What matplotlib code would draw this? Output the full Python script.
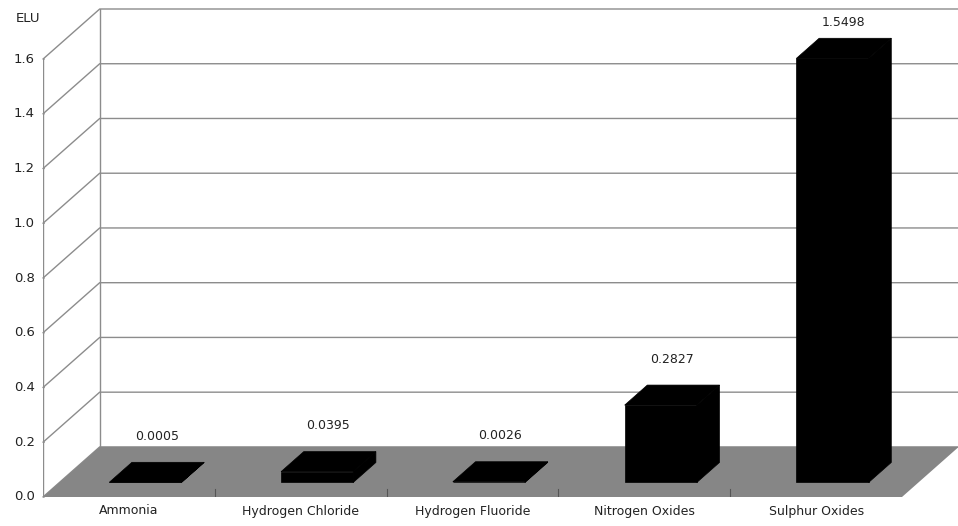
import numpy as np
import matplotlib
matplotlib.use("Agg")
from matplotlib import pyplot as plt
from matplotlib.patches import Polygon

# emissions per substance (ELU)
categories = ['Ammonia', 'Hydrogen Chloride', 'Hydrogen Fluoride',
              'Nitrogen Oxides', 'Sulphur Oxides']
values = [0.0005, 0.0395, 0.0026, 0.2827, 1.5498]
value_labels = ['0.0005', '0.0395', '0.0026', '0.2827', '1.5498']
yticks = [0.0, 0.2, 0.4, 0.6, 0.8, 1.0, 1.2, 1.4, 1.6]
ytick_labels = ['0.0', '0.2', '0.4', '0.6', '0.8', '1.0', '1.2', '1.4', '1.6']
unit = 'ELU'

# oblique projection of the depth axis
DX = 0.33     # depth shift in category units
DY = 0.183    # depth shift in value units
YMAX = 1.6
bar_w = 0.42
z0, z1 = 0.29, 0.69

grid_col = '#8c8c8c'
floor_col = '#868686'
text_col = '#222222'
fs = 9


def proj(x, y, z):
    return (x + z * DX, y + z * DY)


n = len(categories)
fig = plt.figure(figsize=(9.58, 5.26), dpi=100)
ax = fig.add_axes([43 / 958, 29 / 526, 171.8 * (n + DX) / 958, 488 / 526])
ax.set_xlim(0, n + DX)
ax.set_ylim(0, YMAX + DY)
ax.axis('off')

# wall grid: diagonal on the side, horizontal on the back wall
for v, lbl in zip(yticks, ytick_labels):
    pts = [proj(0, v, 0), proj(0, v, 1), proj(n, v, 1)]
    ax.plot([p[0] for p in pts], [p[1] for p in pts], color=grid_col,
            lw=1.0, zorder=1, clip_on=False, solid_capstyle='butt')
    # small tick on the value axis
    ax.annotate('', xy=(0, v), xytext=(4, 0), textcoords='offset pixels',
                arrowprops=dict(arrowstyle='-', color=grid_col, lw=1.0))
    ax.annotate(lbl, (0, v), xytext=(-8, 0),
                textcoords='offset pixels', ha='right', va='center',
                fontsize=9.5, color=text_col)

# front value axis and back wall edge
ax.plot([0, 0], [0, YMAX], color=grid_col, lw=1.0, zorder=1)
b0, b1 = proj(0, 0, 1), proj(0, YMAX, 1)
ax.plot([b0[0], b1[0]], [b0[1], b1[1]], color=grid_col, lw=1.0, zorder=1)

# floor
floor = [proj(0, 0, 0), proj(n, 0, 0), proj(n, 0, 1), proj(0, 0, 1)]
ax.add_patch(Polygon(floor, closed=True, facecolor=floor_col,
                     edgecolor='none', zorder=2, clip_on=False))

# category separators on the floor edge
for k in range(1, n):
    ax.plot([k, k], [0, 0.03], color='#555555', lw=0.8, zorder=2.5)

# bars
for i, v in enumerate(values):
    xa = i + 0.5 - bar_w / 2
    xb = i + 0.5 + bar_w / 2
    front = [proj(xa, 0, z0), proj(xb, 0, z0), proj(xb, v, z0), proj(xa, v, z0)]
    top = [proj(xa, v, z0), proj(xb, v, z0), proj(xb, v, z1), proj(xa, v, z1)]
    side = [proj(xb, 0, z0), proj(xb, 0, z1), proj(xb, v, z1), proj(xb, v, z0)]
    for face in (front, top, side):
        ax.add_patch(Polygon(face, closed=True, facecolor='black',
                             edgecolor='black', lw=0.5, zorder=3,
                             clip_on=False))
    lx = proj(i + 0.5, v, (z0 + z1) / 2)[0]
    ly = proj(i + 0.5, v, z1)[1]
    ly = min(ly + 0.095, YMAX + DY - 0.05)
    ax.text(lx, ly, value_labels[i], ha='center', va='center',
            fontsize=fs, color=text_col, zorder=4)

# category labels
for i, c in enumerate(categories):
    ax.annotate(c, (i + 0.5, 0), xytext=(0, -14), textcoords='offset pixels',
                ha='center', va='center', fontsize=fs, color=text_col)

fig.text(28 / 958, 1 - 18 / 526, unit, ha='center', va='center',
         fontsize=9.5, color=text_col)

fig.savefig('out.png', dpi=100, facecolor='white')
